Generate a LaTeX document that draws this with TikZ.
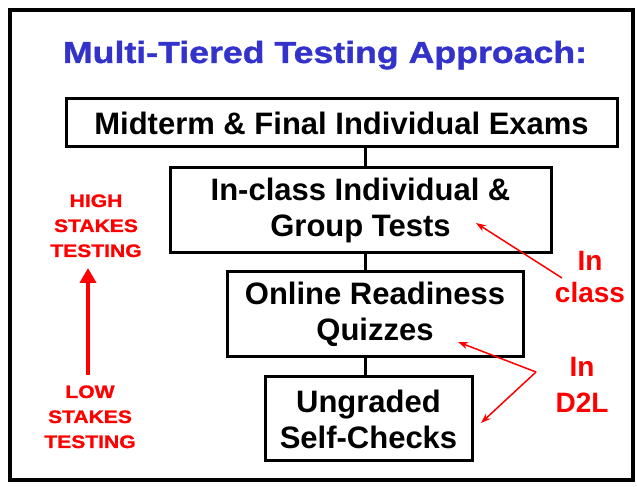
\documentclass[tikz,border=0pt]{standalone}
\usepackage{fontspec}
\setmainfont{Liberation Sans}
\newfontfamily\widefont[FakeStretch=1.17,FakeBold=1.2]{Liberation Sans}
\usetikzlibrary{arrows.meta}
\definecolor{titleblue}{RGB}{51,51,204}
\definecolor{notered}{RGB}{255,0,0}

\tikzset{
  tier/.style={draw, line width=3pt, align=center, inner sep=0pt,
    font=\fontsize{31}{36}\selectfont\bfseries},
  stakes/.style={text=notered, align=center, anchor=base,
    font=\widefont\fontsize{18}{25}\selectfont\bfseries},
  where/.style={text=notered, align=center, anchor=base,
    font=\fontsize{28}{32}\selectfont\bfseries},
  pointer/.style={draw=notered, line width=1.5pt, -{Stealth[length=10pt,width=7pt]}}
}

\begin{document}
\begin{tikzpicture}[x=1pt,y=1pt]
  \useasboundingbox (0,0) rectangle (637,487);
  \draw[line width=3.5pt] (10,7) rectangle (633,477);

  \node[anchor=base, text=titleblue, font=\widefont\fontsize{30.5}{30.5}\selectfont\bfseries]
    (title) at (325,424) {Multi-Tiered Testing Approach:};

  % the four tiers
  \node[tier, minimum width=551, minimum height=48] (exams) at (341.5,364)
    {Midterm \& Final Individual Exams};
  \node[tier, minimum width=381, minimum height=85] (tests) at (360.5,276.5)
    {In-class Individual \&\\Group Tests};
  \node[tier, minimum width=296, minimum height=85] (quizzes) at (375,172.5)
    {Online Readiness\\Quizzes};
  \node[tier, minimum width=207, minimum height=84] (checks) at (368.5,68)
    {Ungraded\\Self-Checks};

  \coordinate (spine) at (365,0);
  \draw[line width=3pt] (exams.south -| spine) -- (tests.north -| spine);
  \draw[line width=3pt] (tests.south -| spine) -- (quizzes.north -| spine);
  \draw[line width=3pt] (quizzes.south -| spine) -- (checks.north -| spine);

  % stakes on the left
  \node[stakes] (high) at (96,230) {HIGH\\STAKES\\TESTING};
  \node[stakes] (low) at (90,39) {LOW\\STAKES\\TESTING};
  \coordinate (lowtop) at (88,112);
  \coordinate (hightip) at (88,219);
  \draw[draw=notered, line width=4pt, -{Triangle[length=15pt,width=16pt]}] (lowtop) -- (hightip);

  % where they are taken
  \node[where] (inclass) at (590,184) {In\\class};
  \node[where] (ind2l) at (582,74) {In\\[4pt]D2L};

  \coordinate (classtail) at (562,209);
  \coordinate (teststip) at (476,264);
  \draw[pointer] (classtail) -- (teststip);

  \coordinate (fork) at (536,115);
  \coordinate (quizzestip) at (458,145);
  \coordinate (checkstip) at (481,64);
  \draw[pointer] (fork) -- (quizzestip);
  \draw[pointer] (fork) -- (checkstip);
\end{tikzpicture}
\end{document}
